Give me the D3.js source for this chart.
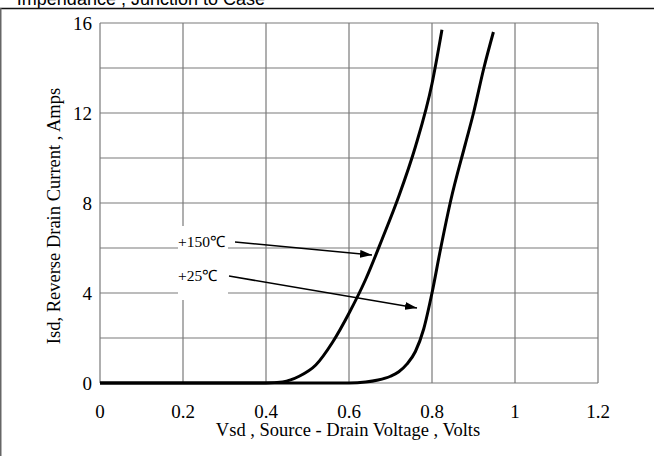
<!DOCTYPE html>
<html>
<head>
<meta charset="utf-8">
<script src="https://cdn.jsdelivr.net/npm/d3@7"></script>
<style>
  body { margin: 0; background: #fff; }
  text { font-family: "Liberation Serif", "Times New Roman", serif; fill: #000; }
</style>
</head>
<body>
<svg id="chart" width="654" height="456"></svg>
<script>
// tick values
var xTicks = [0, 0.2, 0.4, 0.6, 0.8, 1, 1.2];
var yTicks = [0, 4, 8, 12, 16];
var yGrid = [2, 4, 6, 8, 10, 12, 14];

// Vsd (V) vs Isd (A)
var vsd150 = [0, 0.40, 0.44, 0.48, 0.52, 0.56, 0.60, 0.64, 0.68, 0.72, 0.76, 0.80, 0.824];
var isd150 = [0, 0, 0.05, 0.3, 0.8, 1.8, 3.1, 4.6, 6.4, 8.3, 10.5, 13.3, 15.7];
var vsd25 = [0, 0.60, 0.64, 0.67, 0.70, 0.72, 0.74, 0.76, 0.78, 0.80, 0.82, 0.845, 0.88, 0.90, 0.925, 0.948];
var isd25 = [0, 0, 0.04, 0.13, 0.3, 0.5, 0.85, 1.4, 2.4, 4.0, 5.9, 8.1, 10.6, 12.0, 14.0, 15.6];

var labels = ["+150℃", "+25℃"];

(function() {
  var svg = d3.select("#chart");
  var left = 100, right = 598, top = 23, bottom = 383;

  var x = d3.scaleLinear().domain([0, 1.2]).range([left, right]);
  var y = d3.scaleLinear().domain([0, 16]).range([bottom, top]);

  // header remnant and page frame
  svg.append("text")
    .attr("x", 265).attr("y", 5)
    .attr("text-anchor", "end")
    .style("font-family", "Liberation Sans, Arial, sans-serif")
    .style("font-size", "18px")
    .text("Impendance , Junction to Case");
  svg.append("line")
    .attr("x1", 0).attr("x2", 654).attr("y1", 8.5).attr("y2", 8.5)
    .attr("stroke", "#111").attr("stroke-width", 1.5);
  svg.append("line")
    .attr("x1", 0.75).attr("x2", 0.75).attr("y1", 8).attr("y2", 456)
    .attr("stroke", "#666").attr("stroke-width", 1.5);

  // grid
  var g = svg.append("g");
  g.selectAll(".vg").data(xTicks).enter().append("line")
    .attr("x1", d => x(d)).attr("x2", d => x(d))
    .attr("y1", top).attr("y2", bottom)
    .attr("stroke", "#7a7a7a").attr("stroke-width", 1.2);
  g.selectAll(".hg").data(yGrid.concat([0, 16])).enter().append("line")
    .attr("x1", left).attr("x2", right)
    .attr("y1", d => y(d)).attr("y2", d => y(d))
    .attr("stroke", "#7a7a7a").attr("stroke-width", 1.2);

  // white box behind the temperature labels
  svg.append("rect")
    .attr("x", 178).attr("y", 226).attr("width", 50).attr("height", 74)
    .attr("fill", "#fff");

  // tick labels
  svg.selectAll(".xt").data(xTicks).enter().append("text")
    .attr("x", d => x(d)).attr("y", 418)
    .attr("text-anchor", "middle")
    .style("font-size", "19px")
    .text(d => d);
  svg.selectAll(".yt").data(yTicks).enter().append("text")
    .attr("x", 92).attr("y", d => y(d) + 6.5)
    .attr("text-anchor", "end")
    .style("font-size", "19px")
    .text(d => d);

  // axis titles
  svg.append("text")
    .attr("x", 348).attr("y", 436)
    .attr("text-anchor", "middle")
    .style("font-size", "18.5px")
    .text("Vsd , Source - Drain Voltage , Volts");
  svg.append("text")
    .attr("transform", "translate(60,216) rotate(-90)")
    .attr("text-anchor", "middle")
    .style("font-size", "18.5px")
    .text("Isd, Reverse Drain Current , Amps");

  // curves
  var line = d3.line()
    .x(d => x(d[0])).y(d => y(d[1]))
    .curve(d3.curveMonotoneX);
  [[vsd150, isd150], [vsd25, isd25]].forEach(function(s) {
    svg.append("path")
      .datum(d3.zip(s[0], s[1]))
      .attr("d", line)
      .attr("fill", "none")
      .attr("stroke", "#000")
      .attr("stroke-width", 3);
  });

  // labels and arrows
  svg.append("defs").append("marker")
    .attr("id", "ah")
    .attr("viewBox", "0 0 12 8")
    .attr("refX", 12).attr("refY", 4)
    .attr("markerWidth", 12).attr("markerHeight", 8)
    .attr("markerUnits", "userSpaceOnUse")
    .attr("orient", "auto")
    .append("path").attr("d", "M0,0L12,4L0,8Z").attr("fill", "#000");

  var notes = [
    { tx: 178, ty: 247, x1: 235, y1: 242, x2: 372, y2: 255 },
    { tx: 178, ty: 281, x1: 229, y1: 276, x2: 417, y2: 308 }
  ];
  notes.forEach(function(n, i) {
    svg.append("text")
      .attr("x", n.tx).attr("y", n.ty)
      .style("font-size", "15.5px")
      .text(labels[i]);
    svg.append("line")
      .attr("x1", n.x1).attr("y1", n.y1).attr("x2", n.x2).attr("y2", n.y2)
      .attr("stroke", "#000").attr("stroke-width", 1.6)
      .attr("marker-end", "url(#ah)");
  });
})();
</script>
</body>
</html>
